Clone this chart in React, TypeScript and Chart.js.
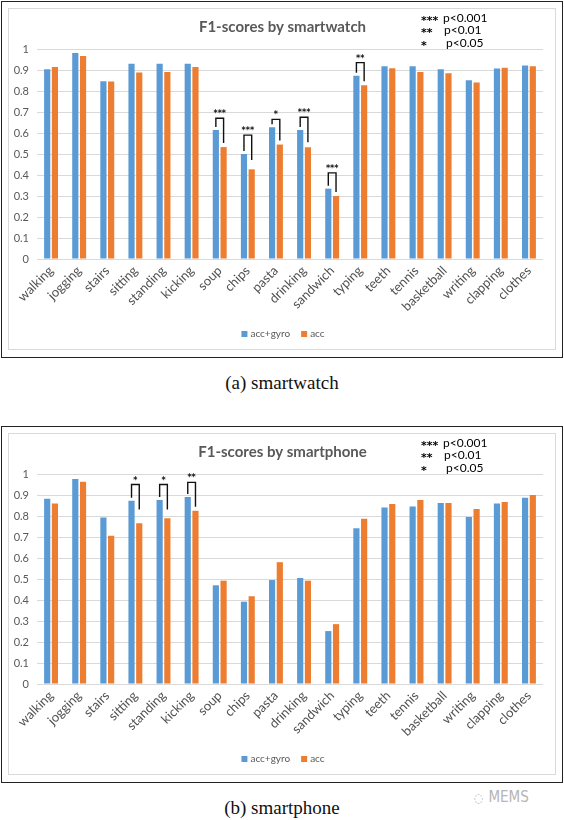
import React, { useEffect, useRef } from "react";
import { Chart, registerables } from "chart.js";
Chart.register(...registerables);

const categories = ["walking", "jogging", "stairs", "sitting", "standing", "kicking", "soup", "chips", "pasta", "drinking", "sandwich", "typing", "teeth", "tennis", "basketball", "writing", "clapping", "clothes"];

const seriesLabels = ["acc+gyro", "acc"];
const seriesColors = ["#5b9bd5", "#ed7d31"];

const watchAccGyro = [0.903, 0.981, 0.846, 0.930, 0.930, 0.930, 0.614, 0.500, 0.627, 0.614, 0.335, 0.873, 0.918, 0.918, 0.903, 0.851, 0.907, 0.921];
const watchAcc = [0.914, 0.967, 0.845, 0.888, 0.890, 0.914, 0.533, 0.427, 0.545, 0.532, 0.300, 0.827, 0.908, 0.890, 0.884, 0.840, 0.911, 0.918];

const phoneAccGyro = [0.882, 0.976, 0.793, 0.873, 0.876, 0.890, 0.470, 0.392, 0.495, 0.505, 0.252, 0.742, 0.840, 0.845, 0.862, 0.795, 0.860, 0.887];
const phoneAcc = [0.859, 0.963, 0.706, 0.765, 0.789, 0.825, 0.492, 0.418, 0.580, 0.492, 0.285, 0.787, 0.857, 0.876, 0.862, 0.833, 0.867, 0.900];

// significance brackets: category index, stars, bracket level (F1 units)
const watchSig = [
  { index: 6, stars: "***", level: 0.67 },
  { index: 7, stars: "***", level: 0.59 },
  { index: 8, stars: "*", level: 0.665 },
  { index: 9, stars: "***", level: 0.675 },
  { index: 10, stars: "***", level: 0.41 },
  { index: 11, stars: "**", level: 0.935 },
];
const phoneSig = [
  { index: 3, stars: "*", level: 0.95 },
  { index: 4, stars: "*", level: 0.95 },
  { index: 5, stars: "**", level: 0.96 },
];

const sigKeyStars = ["***", "**", "*"];
const sigKeyText = ["p<0.001", "p<0.01", "p<0.05"];

const FONT = "Lato, 'Open Sans', sans-serif";
const STAR_FONT = "'DejaVu Sans', sans-serif";
const GRAY = "#595959";

type Sig = { index: number; stars: string; level: number };

function makeOverlay(title: string, sig: Sig[]) {
  return {
    id: "overlay",
    afterDraw(chart: any) {
      const ctx = chart.ctx as CanvasRenderingContext2D;
      ctx.save();
      // title
      ctx.font = `bold 15px ${FONT}`;
      ctx.fillStyle = GRAY;
      ctx.textAlign = "center";
      ctx.textBaseline = "middle";
      ctx.fillText(title, 282.5, 27);
      // significance key
      ctx.fillStyle = "#000";
      ctx.textAlign = "left";
      const pX = [443, 444, 446];
      sigKeyStars.forEach((s, i) => {
        ctx.font = `bold 11px ${STAR_FONT}`;
        ctx.fillText(s, 421, 21 + i * 12.5);
        ctx.font = `12px ${FONT}`;
        ctx.fillText(sigKeyText[i], pX[i], 18 + i * 12.5);
      });
      // brackets
      const m0 = chart.getDatasetMeta(0);
      const m1 = chart.getDatasetMeta(1);
      const ys = chart.scales.y;
      sig.forEach((s) => {
        const b = m0.data[s.index];
        const o = m1.data[s.index];
        const yTop = ys.getPixelForValue(s.level);
        const rEnd = Math.min(o.y - 4, yTop + 25);
        ctx.strokeStyle = "#111";
        ctx.lineWidth = 1.4;
        ctx.beginPath();
        ctx.moveTo(b.x, b.y - 3);
        ctx.lineTo(b.x, yTop);
        ctx.lineTo(o.x, yTop);
        ctx.lineTo(o.x, rEnd);
        ctx.stroke();
        ctx.font = `bold 8px ${STAR_FONT}`;
        ctx.fillStyle = "#111";
        ctx.textAlign = "center";
        ctx.textBaseline = "alphabetic";
        ctx.fillText(s.stars, (b.x + o.x) / 2, yTop - 2);
      });
      // legend
      ctx.font = `10px ${FONT}`;
      ctx.textBaseline = "middle";
      ctx.textAlign = "left";
      const ds = chart.data.datasets;
      const widths = ds.map((d: any) => ctx.measureText(d.label).width);
      const box = 6, gap = 3, spacing = 11;
      let total = 0;
      widths.forEach((w: number, i: number) => { total += box + gap + w + (i < widths.length - 1 ? spacing : 0); });
      let x = 283 - total / 2;
      const ly = 334;
      ds.forEach((d: any, i: number) => {
        ctx.fillStyle = d.backgroundColor;
        ctx.fillRect(x, ly - 3, box, box);
        ctx.fillStyle = GRAY;
        ctx.fillText(d.label, x + box + gap, ly);
        x += box + gap + widths[i] + spacing;
      });
      ctx.restore();
    },
  };
}

function ChartBlock(props: { top: number; title: string; a: number[]; b: number[]; sig: Sig[]; caption: string }) {
  const ref = useRef<HTMLCanvasElement | null>(null);
  useEffect(() => {
    if (!ref.current) return;
    const chart = new Chart(ref.current, {
      type: "bar",
      data: {
        labels: categories,
        datasets: [
          { label: seriesLabels[0], data: props.a, backgroundColor: seriesColors[0], borderWidth: 0 },
          { label: seriesLabels[1], data: props.b, backgroundColor: seriesColors[1], borderWidth: 0 },
        ],
      },
      options: {
        responsive: false,
        animation: false,
        devicePixelRatio: 1,
        layout: { padding: { top: 49, right: 21, bottom: 21, left: 0 } },
        datasets: { bar: { categoryPercentage: 0.55, barPercentage: 0.8 } },
        plugins: { legend: { display: false }, title: { display: false }, tooltip: { enabled: false } },
        scales: {
          x: {
            grid: { display: false, drawTicks: false },
            border: { display: false },
            ticks: {
              autoSkip: false,
              minRotation: 45,
              maxRotation: 45,
              padding: 4,
              color: "#505050",
              font: { family: FONT, size: 13 },
            },
            afterFit: (s: any) => { s.height = 80; },
          },
          y: {
            min: 0,
            max: 1,
            grid: { color: "#d9d9d9", drawTicks: false, lineWidth: 1 },
            border: { display: false },
            ticks: {
              stepSize: 0.1,
              padding: 8,
              color: GRAY,
              font: { family: FONT, size: 11 },
              callback: (v: any) => String(Number(Number(v).toFixed(1))),
            },
            afterFit: (s: any) => { s.width = 37; },
          },
        },
      },
      plugins: [makeOverlay(props.title, props.sig)],
    } as any);
    return () => chart.destroy();
  }, []);
  const t = props.top;
  return (
    <>
      <div style={{ position: "absolute", left: 1, top: t + 1, width: 562, height: 357, boxSizing: "border-box", border: "1.5px solid #222" }} />
      <div style={{ position: "absolute", left: 8, top: t + 8, width: 548, height: 342, boxSizing: "border-box", border: "1px solid #d9d9d9" }} />
      <canvas ref={ref} width={564} height={360} style={{ position: "absolute", left: 0, top: t, width: 564, height: 360 }} />
      <div style={{ position: "absolute", left: 0, width: 564, top: t + 371, textAlign: "center", fontFamily: "'Liberation Serif', 'Times New Roman', serif", fontSize: 19, lineHeight: "24px", color: "#111" }}>
        {props.caption}
      </div>
    </>
  );
}

export default function App() {
  return (
    <div style={{ position: "absolute", left: 0, top: 0, width: 564, height: 820, background: "#fff", overflow: "hidden" }}>
      <ChartBlock top={0} title="F1-scores by smartwatch" a={watchAccGyro} b={watchAcc} sig={watchSig} caption="(a)  smartwatch" />
      <ChartBlock top={425} title="F1-scores by smartphone" a={phoneAccGyro} b={phoneAcc} sig={phoneSig} caption="(b)  smartphone" />
      <div style={{ position: "absolute", left: 474, top: 788, fontFamily: "'DejaVu Sans Condensed', 'DejaVu Sans', sans-serif", fontSize: 15, color: "#b5b5b5", letterSpacing: 0 }}>
        <span style={{ fontSize: 12, marginRight: 5 }}>◌</span>MEMS
      </div>
    </div>
  );
}
